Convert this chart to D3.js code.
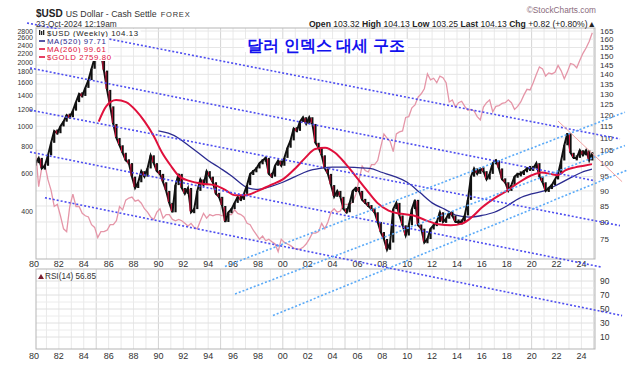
<!DOCTYPE html>
<html><head><meta charset="utf-8">
<script src="https://cdn.jsdelivr.net/npm/d3@7"></script>
<style>body{margin:0;background:#fff;} svg{display:block;} text{font-family:"Liberation Sans",Arial,sans-serif;}</style>
</head><body><svg id="c" width="629" height="373"></svg>
<script>
// ---------- data ----------
const startYear = 1980; // quarterly series, one value per quarter
const usdQ = [
 100,102,98,99, 103,108,113,112, 115,117,120,119, 122,126,130,129, 133,137,143,149,
 160,152,142,132, 124,116,110,107, 104,101,100,95, 91,93,97,95, 98,103,100,97,
 96,93,90,86, 83,92,96,91, 89,91,83,84, 90,94,92,97, 95,93,89,88,
 85,80,83,84, 86,88,87,89, 92,96,97,98, 100,101,102,96, 95,99,101,99,
 102,106,109,114, 113,117,119,116, 119,116,108,106, 103,98,96,92, 88,90,88,84,
 83,86,90,91, 90,87,86,85, 84,83,80,77, 75,72,74,84, 86,82,79,76,
 79,84,87,79, 78,74,75,78, 79,80,83,80, 81,83,82,80, 80,80,82,87,
 95,98,96,98, 97,94,96,100, 101,98,94,93, 90,92,95,96, 96,97,98,98,
 98,100,95,93, 90,91,92,94, 96,101,107,112, 104,102,102,105, 103,105,101,104.13
];
const goldQ = [
 780,520,640,660, 560,500,420,430, 380,330,320,420, 480,420,420,390, 380,375,345,335,
 300,320,320,325, 345,345,360,420, 405,450,460,465, 445,450,435,410, 395,375,365,395,
 410,370,385,385, 365,360,365,360, 350,340,350,335, 330,360,390,370, 385,380,385,385,
 380,390,385,385, 405,390,385,375, 350,345,325,310, 295,305,290,295, 287,280,258,295,
 285,280,275,268, 265,265,270,280, 295,315,315,320, 350,330,355,395, 410,395,400,430,
 430,430,440,480, 560,650,620,610, 660,660,690,800, 920,880,850,760, 920,940,950,1100,
 1110,1220,1260,1370, 1420,1500,1760,1650, 1680,1600,1720,1690, 1600,1300,1330,1230, 1290,1310,1240,1190,
 1200,1180,1110,1070, 1230,1290,1330,1170, 1240,1250,1280,1290, 1330,1290,1200,1240, 1300,1400,1490,1480,
 1600,1750,1900,1860, 1720,1780,1760,1790, 1930,1820,1670,1800, 1970,1950,1880,2040, 2200,2330,2500,2750
];
const ma260Years = [1985.2,1985.8,1986.6,1987.4,1988.2,1988.9,1989.6,1990.3,1991,1991.7,1992.5,1993.5,1994.5,1995.3,1996.2,1997,1998,1999,2000,2001,2001.8,2002.6,2003.4,2004.2,2005,2005.8,2006.7,2007.6,2008.5,2009.5,2010.5,2011.5,2012.5,2013.5,2014.4,2015.2,2016,2017,2018,2019,2020,2020.8,2021.5,2022.1,2022.7,2023.5,2024.2,2024.85];
const ma260Values = [117,124,127,126,122,117,111,104,99,95,93.5,92.5,92,90.5,88.5,88.5,90,92,94,98,102,105.5,106,104,100,95.5,90.5,86,83.5,82.5,82,80.5,79.3,79,79.5,81.5,84.5,87.5,90,93,95.5,96.5,96,95.5,97.3,98.4,99,99.61];
const ma520Years = [1990.0,1990.8,1991.6,1992.4,1993.2,1994,1995,1995.8,1996.5,1997.2,1998,1999,2000,2001,2002,2003,2004,2005,2006,2007,2008,2009,2010,2011,2012,2013,2014,2015,2016,2017,2018,2019,2020,2021,2022,2023,2024,2024.85];
const ma520Values = [113,112,110,107,104,101,98,95.5,93,91,90.5,91.5,93,95,97,98,98.5,98.5,98.3,98,96.5,95,93,89.5,86,84,82,81.5,82,83,85,87.5,89,90,92,94.3,96.5,97.71];
const usdTicks = [165,160,155,150,145,140,135,130,125,120,115,110,105,100,95,90,85,80,75];
const goldTicks = [2800,2600,2400,2200,2000,1800,1600,1400,1200,1000,800,600,400];
const rsiTicks = [90,70,50,30,10];
const yearLabels = ["80","82","84","86","88","90","92","94","96","98","00","02","04","06","08","10","12","14","16","18","20","22","24"];
// trend annotations: [year1, usd1, year2, usd2]
const downLines = [
 [1979.44,170.1, 2027.1,109.6],
 [1979.68,143.4, 2025.1,93.5],
 [1979.68,122.3, 2027.1,78.9],
 [1979.68,104.3, 2025.66,67.4],
 [1980.88,87.7, 2027.27,56.1]
];
const upLines = [
 [1995.35,67.6, 2027.5,121.3],
 [1996.16,60.9, 2027.5,106.9],
 [1999.21,56.1, 2027.75,97.5]
];
const resistLine = [2022.12,117.3, 2027.27,93.2];

// ---------- scales ----------
const svg = d3.select("#c");
const x = d3.scaleLinear().domain([1980,2024]).range([34,581.4]);
const yUsd = d3.scaleLog().domain([75,165]).range([239,31]);
const yGold = d3.scaleLog().domain([400,2800]).range([211,31]);
const yRsi = d3.scaleLinear().domain([0,100]).range([344,274]);
const P = {l:36, r:595, t:28, b:259};
const R = {l:36, r:595, t:269, b:349};

svg.append("rect").attr("width",629).attr("height",373).attr("fill","#fff");

// ---------- grids ----------
function vGrid(panel){
  const g = svg.append("g");
  for(let yr=1981; yr<=2025; yr++){
    const xx = x(yr); if(xx<panel.l||xx>panel.r) continue;
    g.append("line").attr("x1",xx).attr("x2",xx).attr("y1",panel.t).attr("y2",panel.b)
     .attr("stroke", yr%5===0 ? "#d4d4d4" : "#e9e9e9").attr("stroke-width",1);
  }
}
vGrid(P); vGrid(R);
usdTicks.forEach(t=>{
  svg.append("line").attr("x1",P.l).attr("x2",P.r).attr("y1",yUsd(t)).attr("y2",yUsd(t))
   .attr("stroke","#e6e6e6");
});
d3.range(10,100,10).forEach(t=>{
  svg.append("line").attr("x1",R.l).attr("x2",R.r).attr("y1",yRsi(t)).attr("y2",yRsi(t))
   .attr("stroke", t%20===10 ? "#e0e0e0" : "#ececec");
});

// ---------- clip ----------
svg.append("clipPath").attr("id","clipMain").append("rect")
  .attr("x",P.l).attr("y",P.t).attr("width",P.r-P.l).attr("height",P.b-P.t);
const main = svg.append("g").attr("clip-path","url(#clipMain)");
const qYear = i => startYear + i*0.25 + 0.125;

// gold
main.append("path").datum(goldQ)
  .attr("d", d3.line().x((d,i)=>x(qYear(i))).y(d=>yGold(d)))
  .attr("fill","none").attr("stroke","#e596a8").attr("stroke-width",1.3);

// MA520
main.append("path").datum(ma520Values)
  .attr("d", d3.line().curve(d3.curveMonotoneX).x((d,i)=>x(ma520Years[i])).y(d=>yUsd(d)))
  .attr("fill","none").attr("stroke","#2b2b90").attr("stroke-width",1.3);

// USD price: connecting line + bars
main.append("path").datum(usdQ)
  .attr("d", d3.line().x((d,i)=>x(qYear(i))).y(d=>yUsd(d)))
  .attr("fill","none").attr("stroke","#111").attr("stroke-width",2);
usdQ.forEach((v,i)=>{
  const prev = i>0 ? usdQ[i-1] : v;
  let yTop = yUsd(Math.max(v,prev)), yBot = yUsd(Math.min(v,prev));
  if(yBot-yTop < 5){ const m=(yTop+yBot)/2; yTop=m-2.5; yBot=m+2.5; }
  const xx = x(qYear(i));
  main.append("rect").attr("x",xx-1.1).attr("y",yTop).attr("width",2.2).attr("height",yBot-yTop).attr("fill","#111");
  if(v<prev){
    main.append("rect").attr("x",xx-1.6).attr("y",yTop+1).attr("width",1).attr("height",Math.max(1,yBot-yTop-2)).attr("fill","#e0103c");
  }
});

// MA260
main.append("path").datum(ma260Values)
  .attr("d", d3.line().curve(d3.curveMonotoneX).x((d,i)=>x(ma260Years[i])).y(d=>yUsd(d)))
  .attr("fill","none").attr("stroke","#e0103c").attr("stroke-width",2);

// frames
svg.append("rect").attr("x",P.l).attr("y",P.t).attr("width",P.r-P.l).attr("height",P.b-P.t)
  .attr("fill","none").attr("stroke","#b5b5b5");
svg.append("rect").attr("x",R.l).attr("y",R.t).attr("width",R.r-R.l).attr("height",R.b-R.t)
  .attr("fill","none").attr("stroke","#b5b5b5");

// ---------- axes labels ----------
const lab = svg.append("g").attr("font-size",9).attr("fill","#333");
usdTicks.forEach(t=>lab.append("text").attr("x",600).attr("y",yUsd(t)+2.8).attr("font-size",8).text(t));
goldTicks.forEach(t=>lab.append("text").attr("x",33).attr("y",yGold(t)+2.5).attr("font-size",7).attr("text-anchor","end").text(t));
rsiTicks.forEach(t=>lab.append("text").attr("x",600).attr("y",yRsi(t)+3).attr("font-size",8.5).text(t));
yearLabels.forEach((s,i)=>{
  lab.append("text").attr("x",x(1980+2*i)).attr("y",267).attr("text-anchor","middle").text(s);
  lab.append("text").attr("x",x(1980+2*i)).attr("y",359).attr("text-anchor","middle").text(s);
});

// ---------- trend annotations ----------
const tl = svg.append("g").attr("fill","none");
downLines.forEach(d=>tl.append("line").attr("x1",x(d[0])).attr("y1",yUsd(d[1])).attr("x2",x(d[2])).attr("y2",yUsd(d[3]))
  .attr("stroke","#4d4df0").attr("stroke-width",1.6).attr("stroke-dasharray","2,2"));
upLines.forEach(d=>tl.append("line").attr("x1",x(d[0])).attr("y1",yUsd(d[1])).attr("x2",x(d[2])).attr("y2",yUsd(d[3]))
  .attr("stroke","#5aaaf8").attr("stroke-width",1.6).attr("stroke-dasharray","2,2"));
tl.append("line").attr("x1",x(resistLine[0])).attr("y1",yUsd(resistLine[1])).attr("x2",x(resistLine[2])).attr("y2",yUsd(resistLine[3]))
  .attr("stroke","#f2a3a3").attr("stroke-width",1);

// ---------- legend ----------
const leg = svg.append("g").attr("font-family","DejaVu Sans Mono, monospace").attr("font-size",7.8);
const legRows = [
  {t:"$USD (Weekly) 104.13", c:"#222", icon:"bar"},
  {t:"MA(520) 97.71", c:"#2b2b90", icon:"dash"},
  {t:"MA(260) 99.61", c:"#e0103c", icon:"dash"},
  {t:"$GOLD 2759.80", c:"#e0103c", icon:"dash"}
];
legRows.forEach((r,i)=>{
  const yb = 36 + i*8;
  const bg = leg.append("rect").attr("fill","#fff");
  const tx = leg.append("text").attr("x",47).attr("y",yb).attr("fill",r.c).attr("letter-spacing",0.6).text(r.t);
  const w = tx.node().getComputedTextLength();
  bg.attr("x",37).attr("y",yb-7).attr("width",w+12).attr("height",8);
  if(r.icon==="bar"){
    [[39,-6,5],[41,-5,4],[43,-6,5]].forEach(b=>leg.append("rect").attr("x",b[0]).attr("y",yb+b[1]).attr("width",1.3).attr("height",b[2]).attr("fill","#222"));
  } else {
    leg.append("line").attr("x1",39).attr("x2",45).attr("y1",yb-3).attr("y2",yb-3).attr("stroke",r.c).attr("stroke-width",1.6);
  }
});
// RSI label
svg.append("path").attr("d","M38,279 L41,274 L44,279 Z").attr("fill","#7a1d2e");
svg.append("text").attr("x",45).attr("y",279).attr("font-family","DejaVu Sans Mono, monospace").attr("font-size",8.2).attr("fill","#333").text("RSI(14) 56.85");

// ---------- title ----------
const tg = svg.append("g");
const tbg = tg.append("rect").attr("fill","#fff");
const title = tg.append("text").attr("x",326).attr("y",51).attr("text-anchor","middle")
  .attr("font-family","Noto Sans CJK KR, sans-serif").attr("font-weight","bold").attr("font-size",16)
  .attr("fill","#1212ee").text("달러 인덱스 대세 구조");
const tb = title.node().getBBox();
tbg.attr("x",tb.x-3).attr("y",tb.y+2).attr("width",tb.width+6).attr("height",tb.height-4);

// ---------- header ----------
const hd = svg.append("g").attr("fill","#222");
const t1 = hd.append("text").attr("x",36).attr("y",17).attr("font-size",10).attr("font-weight","bold").text("$USD");
const x2 = 36 + t1.node().getComputedTextLength() + 3;
const t2 = hd.append("text").attr("x",x2).attr("y",17).attr("font-size",8.8).attr("fill","#333").text("US Dollar - Cash Settle");
const x3 = x2 + t2.node().getComputedTextLength() + 4;
hd.append("text").attr("x",x3).attr("y",17).attr("font-size",7.5).attr("letter-spacing",0.8).attr("fill","#333").text("FOREX");
hd.append("text").attr("x",36).attr("y",26.5).attr("font-size",8.3).attr("fill","#333").text("23-Oct-2024 12:19am");
hd.append("text").attr("x",596).attr("y",13).attr("font-size",8.3).attr("text-anchor","end").attr("fill","#8a6b7c").text("©StockCharts.com");
const ohlc = hd.append("text").attr("x",596).attr("y",26.5).attr("font-size",8.6).attr("text-anchor","end");
[["Open ",1],["103.32 ",0],["High ",1],["104.13 ",0],["Low ",1],["103.25 ",0],["Last ",1],["104.13 ",0],["Chg ",1],["+0.82 (+0.80%)▲",0]]
 .forEach(p=>ohlc.append("tspan").attr("font-weight",p[1]?"bold":"normal").text(p[0]));
</script></body></html>
